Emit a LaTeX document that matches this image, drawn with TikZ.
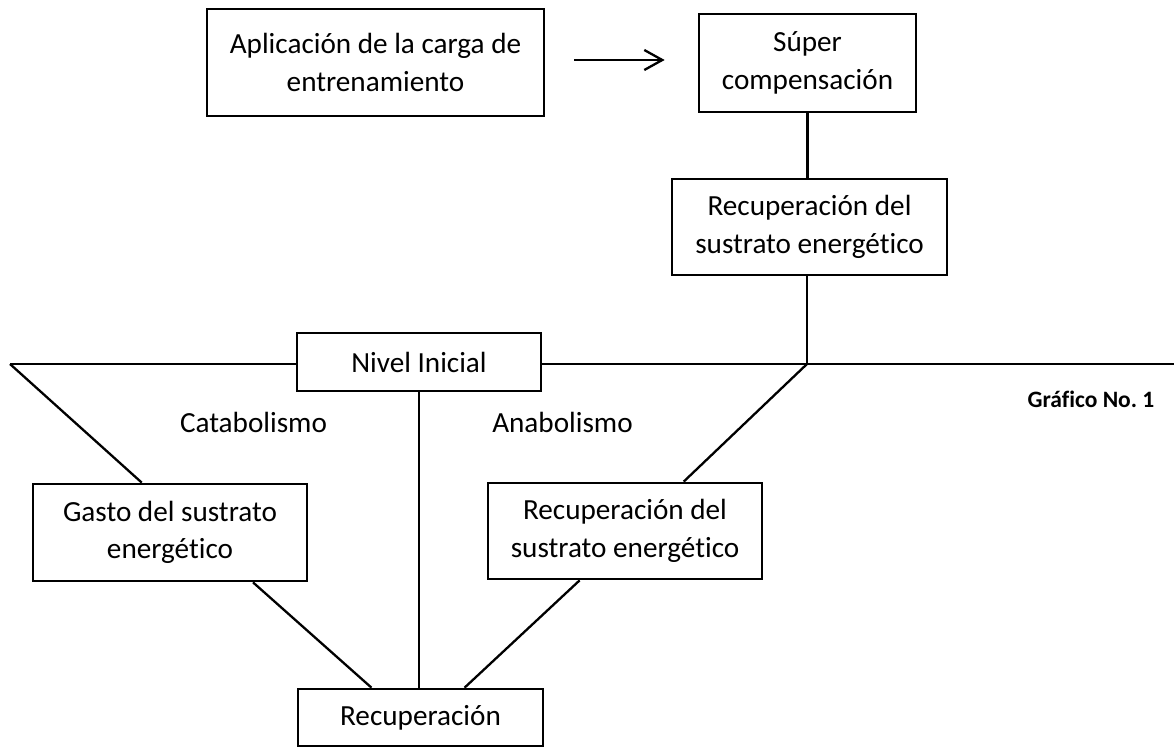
\documentclass[tikz,border=0pt]{standalone}
\usepackage{fontspec}
\setmainfont[Ligatures=NoCommon,RawFeature={-liga;-clig}]{Carlito}
\usetikzlibrary{arrows.meta,calc}
\begin{document}
\begin{tikzpicture}[x=1pt,y=-1pt,
  box/.style={draw,line width=2.7pt,fill=white,align=center,inner sep=0pt,
    font=\fontsize{29.2}{37.5}\selectfont},
  conn/.style={line width=2.3pt},
  lbl/.style={inner sep=0pt,font=\fontsize{29.2}{37.5}\selectfont},
  caption/.style={inner sep=0pt,font=\fontsize{23.5}{28}\selectfont\bfseries}]
\useasboundingbox (0,0) rectangle (1174,747);

% boxes
\node[box,minimum width=337pt,minimum height=107pt] (app) at (375.5,62.5) {Aplicación de la carga de\\entrenamiento};
\node[box,minimum width=217pt,minimum height=98pt] (sup) at (807.5,63) {Súper\\compensación};
\node[box,minimum width=275pt,minimum height=96pt] (rec1) at (809.5,227) {Recuperación del\\sustrato energético};
\node[box,minimum width=244pt,minimum height=58pt] (niv) at (419,362) {Nivel Inicial};
\node[box,minimum width=274pt,minimum height=97pt] (gasto) at (170,532.5) {Gasto del sustrato\\energético};
\node[box,minimum width=274pt,minimum height=96pt] (rec2) at (625,531) {Recuperación del\\sustrato energético};
\node[box,minimum width=245pt,minimum height=57pt] (recu) at (420.5,717.5) {Recuperación};

% labels
\node[lbl] (cat) at (253.5,422) {Catabolismo};
\node[lbl] (ana) at (562.5,422) {Anabolismo};
\node[caption] (graf) at (1091,399) {Gráfico No.\ 1};

% free ends
\coordinate (L) at (10,364);
\coordinate (R) at (1176,364);
\coordinate (J) at (807,364);

% connectors
\draw[conn,-{Straight Barb[length=18pt,width=20pt,line width=2.3pt]}]
  ($(app.east)+(29,-2.5)$) -- ($(sup.west)+(-33,-3)$);
\draw[conn] (sup.south) -- (sup.south |- rec1.north);
\draw[conn] (J |- rec1.south) -- (J);
\draw[conn] (L) -- (niv.west |- L);
\draw[conn] (niv.east |- L) -- (R);
\draw[conn] (L) -- ($(gasto.north west)!0.398!(gasto.north east)$);
\draw[conn] ($(gasto.south west)!0.80!(gasto.south east)$) -- ($(recu.north west)!0.302!(recu.north east)$);
\draw[conn] (niv.south) -- (niv.south |- recu.north);
\draw[conn] (J) -- ($(rec2.north west)!0.712!(rec2.north east)$);
\draw[conn] ($(rec2.south west)!0.336!(rec2.south east)$) -- ($(recu.north west)!0.678!(recu.north east)$);
\end{tikzpicture}
\end{document}
